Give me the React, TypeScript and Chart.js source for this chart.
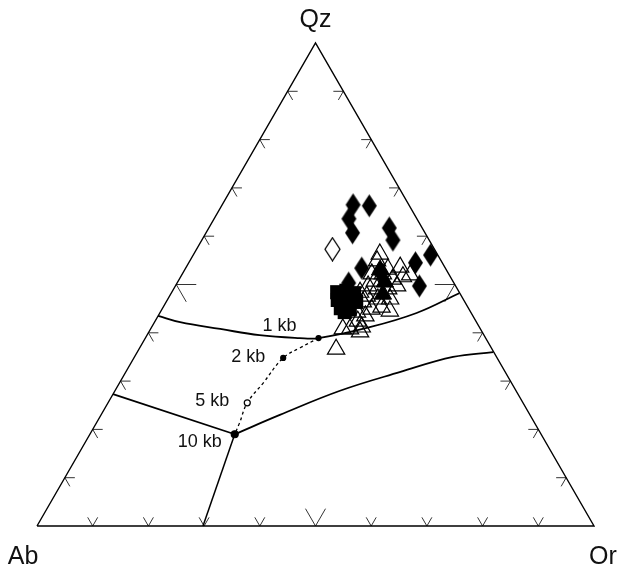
import React, { useEffect, useRef } from 'react';
import { Chart, registerables } from 'chart.js';

Chart.register(...registerables);

const S3 = Math.sqrt(3) / 2;

// Ternary compositions as [Qz %, Or %]; Ab % = 100 - Qz - Or
const filledDiamonds = [
  [66.5, 23.5], [66.3, 26.5], [63.6, 24.2], [60.7, 26.3], [61.7, 32.4], [59.2, 34.3],
  [56.1, 42.6], [54.5, 40.7], [53.4, 31.6], [52.6, 35.3], [49.7, 43.8], [50.3, 30.8],
];
const openDiamonds = [[57.3, 24.4]];
const filledSquares = [
  [48.4, 29.7], [48.7, 31.2], [48.2, 32.8], [46.8, 30.6], [46.6, 32.4], [46.4, 34.1],
  [45.1, 32.0], [44.9, 33.7], [44.3, 33.1],
];
const openTriangles = [
  [56.3, 33.4], [54.9, 33.6], [53.6, 38.4], [51.6, 39.9], [53.2, 36.4], [51.1, 38.3],
  [52.2, 36.0], [52.2, 34.0], [49.7, 34.6], [49.1, 36.5], [49.1, 38.5], [49.7, 39.8],
  [47.6, 35.4], [47.0, 37.7], [47.0, 39.9], [48.4, 33.8], [46.4, 35.3], [44.9, 37.6],
  [44.5, 41.1], [43.5, 37.2], [42.4, 36.4], [40.8, 35.8], [40.2, 37.9], [41.2, 37.7],
  [40.8, 34.5], [36.6, 35.4], [44.3, 35.3], [45.3, 39.2], [52.0, 41.0], [50.7, 35.3],
];
const filledTriangles = [[53.0, 35.1], [50.5, 37.2], [48.0, 38.1]];

const cotectic1kb = [
  [43.5, 0.0], [42.2, 4.6], [40.8, 12.5], [39.5, 20.2], [38.9, 27.7], [38.9, 31.1],
  [41.0, 38.7], [44.1, 46.1], [48.2, 51.7],
];
const cotectic10kbLeft = [[27.3, 0.0], [19.0, 26.0]];
const cotectic10kbRight = [
  [19.0, 26.0], [23.0, 32.1], [28.0, 40.4], [31.9, 49.3], [35.0, 57.2], [36.0, 63.9],
];
const feldsparBoundary = [[19.0, 26.0], [0.0, 29.8]];
const minimumTrend = [
  [38.9, 31.1], [36.9, 28.8], [34.8, 26.8], [29.6, 25.8], [25.5, 25.0], [21.3, 25.7], [19.0, 26.0],
];
const pressurePoints = [[38.9, 31.1], [34.8, 26.8], [25.5, 25.0], [19.0, 26.0]];
const pressureLabels = ['1 kb', '2 kb', '5 kb', '10 kb'];
const apexLabels = ['Qz', 'Ab', 'Or'];
const apexComps = [[100, 0], [0, 0], [0, 100]];
const tickSteps = [10, 20, 30, 40, 50, 60, 70, 80, 90];
const frame = [[0, 0], [0, 100], [100, 0], [0, 0]];

const toXY = (p: number[]) => ({ x: p[1] + p[0] / 2, y: p[0] * S3 });

function makeDiamond(fill: boolean) {
  const c = document.createElement('canvas');
  c.width = 17;
  c.height = 25;
  const ctx = c.getContext('2d')!;
  ctx.beginPath();
  ctx.moveTo(8.5, 1);
  ctx.lineTo(16, 12.5);
  ctx.lineTo(8.5, 24);
  ctx.lineTo(1, 12.5);
  ctx.closePath();
  if (fill) {
    ctx.fillStyle = '#000';
    ctx.fill();
  } else {
    ctx.fillStyle = '#fff';
    ctx.fill();
    ctx.lineWidth = 1.3;
    ctx.strokeStyle = '#000';
    ctx.stroke();
  }
  return c;
}

const labelOffsets = [[-39, -12], [-35, -1], [-35, -2], [-35, 8]];
const apexOffsets = [[0, -23], [-14, 31], [9, 31]];

const ternaryPlugin = {
  id: 'ternaryDecor',
  beforeDatasetsDraw(chart: any) {
    const { ctx, scales } = chart;
    const xs = scales.x;
    const ys = scales.y;
    const P = (q: number, o: number) => [xs.getPixelForValue(o + q / 2), ys.getPixelForValue(q * S3)];
    ctx.save();
    ctx.strokeStyle = '#333';
    ctx.lineWidth = 1;
    for (const t of tickSteps) {
      const len = t === 50 ? 20 : 10;
      const [bx, by] = P(0, t);
      ctx.beginPath();
      ctx.moveTo(bx - len * 0.5, by - len * S3);
      ctx.lineTo(bx, by);
      ctx.lineTo(bx + len * 0.5, by - len * S3);
      ctx.stroke();
      const [lx, ly] = P(t, 0);
      ctx.beginPath();
      ctx.moveTo(lx + len, ly);
      ctx.lineTo(lx, ly);
      ctx.lineTo(lx + len * 0.5, ly + len * S3);
      ctx.stroke();
      const [rx, ry] = P(t, 100 - t);
      ctx.beginPath();
      ctx.moveTo(rx - len, ry);
      ctx.lineTo(rx, ry);
      ctx.lineTo(rx - len * 0.5, ry + len * S3);
      ctx.stroke();
    }
    ctx.restore();
  },
  afterDatasetsDraw(chart: any) {
    const { ctx, scales } = chart;
    const xs = scales.x;
    const ys = scales.y;
    const P = (q: number, o: number) => [xs.getPixelForValue(o + q / 2), ys.getPixelForValue(q * S3)];
    ctx.save();
    ctx.fillStyle = '#111';
    ctx.textAlign = 'center';
    ctx.textBaseline = 'middle';
    ctx.font = '18px "Liberation Sans", Arial, sans-serif';
    pressurePoints.forEach((p, i) => {
      const [px, py] = P(p[0], p[1]);
      ctx.fillText(pressureLabels[i], px + labelOffsets[i][0], py + labelOffsets[i][1]);
    });
    ctx.font = '25px "Liberation Sans", Arial, sans-serif';
    apexComps.forEach((p, i) => {
      const [px, py] = P(p[0], p[1]);
      ctx.fillText(apexLabels[i], px + apexOffsets[i][0], py + apexOffsets[i][1]);
    });
    ctx.restore();
  },
};

export default function App() {
  const ref = useRef<HTMLCanvasElement>(null);
  useEffect(() => {
    if (!ref.current) return;
    const line = (data: number[][], extra: any = {}) => ({
      type: 'line',
      data: data.map(toXY),
      borderColor: '#000',
      borderWidth: 1.8,
      pointRadius: 0,
      fill: false,
      clip: false,
      tension: 0,
      ...extra,
    });
    const chart = new Chart(ref.current, {
      type: 'scatter',
      data: {
        datasets: [
          {
            data: filledDiamonds.map(toXY),
            pointStyle: makeDiamond(true),
            order: 0,
            clip: false,
          },
          {
            data: openDiamonds.map(toXY),
            pointStyle: makeDiamond(false),
            order: 0,
            clip: false,
          },
          {
            data: filledTriangles.map(toXY),
            pointStyle: 'triangle',
            pointRadius: 10,
            backgroundColor: '#000',
            borderColor: '#000',
            borderWidth: 1,
            order: 1,
            clip: false,
          },
          {
            data: openTriangles.map(toXY),
            pointStyle: 'triangle',
            pointRadius: 10,
            backgroundColor: 'rgba(255,255,255,0)',
            borderColor: '#000',
            borderWidth: 1.2,
            order: 2,
            clip: false,
          },
          {
            data: filledSquares.map(toXY),
            pointStyle: 'rect',
            pointRadius: 10,
            backgroundColor: '#000',
            borderColor: '#000',
            borderWidth: 0,
            order: 3,
            clip: false,
          },
          {
            data: pressurePoints.map(toXY),
            pointStyle: 'circle',
            pointRadius: [2.5, 2.5, 3, 3.5],
            backgroundColor: ['#000', '#000', '#fff', '#000'],
            borderColor: '#000',
            borderWidth: 1.2,
            order: 4,
            clip: false,
          },
          line(minimumTrend, { borderWidth: 1.3, borderDash: [3, 3], tension: 0.4, order: 5 }) as any,
          line(cotectic1kb, { tension: 0.4, order: 6 }) as any,
          line(cotectic10kbLeft, { order: 6 }) as any,
          line(cotectic10kbRight, { tension: 0.4, order: 6 }) as any,
          line(feldsparBoundary, { borderWidth: 1.5, order: 6 }) as any,
          line(frame, { borderWidth: 1.4, order: 9 }) as any,
        ],
      },
      options: {
        responsive: false,
        animation: false,
        layout: { padding: { left: 37, right: 24, top: 43, bottom: 42 } },
        scales: {
          x: { type: 'linear', min: 0, max: 100, display: false },
          y: { type: 'linear', min: 0, max: 100 * S3, display: false },
        },
        plugins: { legend: { display: false }, tooltip: { enabled: false } },
      },
      plugins: [ternaryPlugin],
    } as any);
    return () => chart.destroy();
  }, []);
  return (
    <div style={{ position: 'absolute', left: 0, top: 0, width: 618, height: 568, background: '#fff' }}>
      <canvas ref={ref} width={618} height={568} style={{ display: 'block' }} />
    </div>
  );
}
